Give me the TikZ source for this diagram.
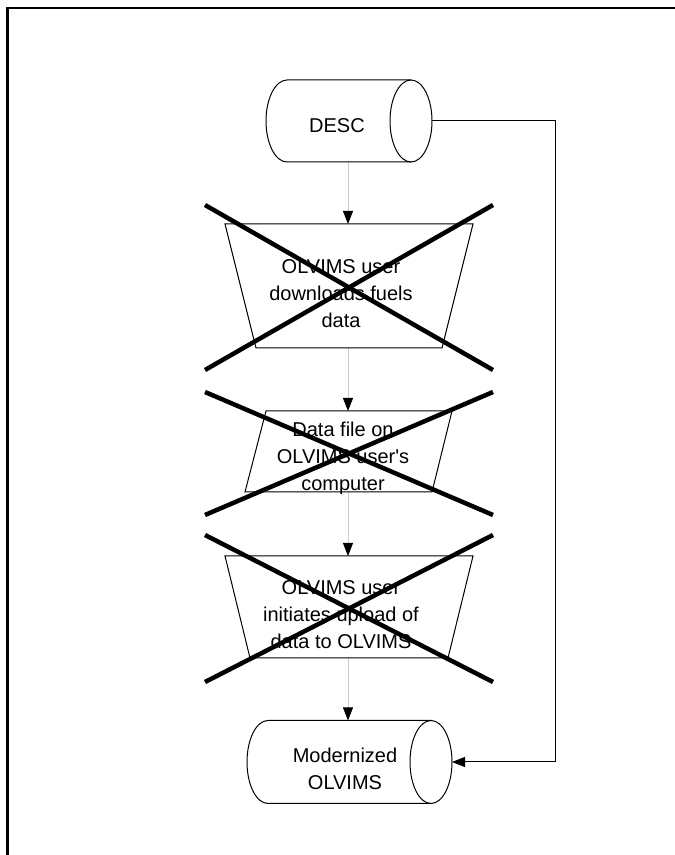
\documentclass[tikz,border=0pt]{standalone}
\usepackage{fontspec}
\setmainfont{Liberation Sans}
\usetikzlibrary{arrows.meta}
\begin{document}
\begin{tikzpicture}[x=1pt,y=1pt,
  shapeline/.style={draw=black, line width=1pt},
  crossline/.style={draw=black, line width=4.5pt},
  flow/.style={draw=gray!40, line width=0.9pt, -{Triangle[width=10pt,length=13pt,color=black]}},
  side/.style={draw=black, line width=1pt, -{Triangle[width=10pt,length=13pt]}},
  lbl/.style={font=\fontsize{20}{27}\selectfont, align=center, inner sep=0pt}]
\useasboundingbox (0,0) rectangle (675,855);
% frame
\draw[line width=2.6pt] (7.3,0) -- (7.3,847) -- (675,847);
% coordinates
\coordinate (descB) at (348,693);
\coordinate (descR) at (432,734);
\coordinate (t1T) at (348,631);
\coordinate (t1B) at (348,507);
\coordinate (pT) at (348,444);
\coordinate (pB) at (348,363);
\coordinate (t2T) at (348,299);
\coordinate (t2B) at (348,197);
\coordinate (modT) at (348,134.5);
\coordinate (modR) at (452,93);
\coordinate (bendA) at (555,734);
\coordinate (bendB) at (555,93);
% flow connectors
\draw[flow] (descB) -- (t1T);
\draw[flow] (t1B) -- (pT);
\draw[flow] (pB) -- (t2T);
\draw[flow] (t2B) -- (modT);
\draw[side] (descR) -- (bendA) -- (bendB) -- (modR);
% DESC cylinder
\draw[shapeline, fill=white] (411,775) -- (287,775) arc[start angle=90,end angle=270,x radius=21,y radius=41] -- (411,693);
\draw[shapeline] (411,734) ellipse[x radius=21,y radius=41];
\node[lbl] (desc) at (337,729) {DESC};
% trapezium 1
\draw[shapeline] (225,631) -- (473,631) -- (442,507) -- (256,507) -- cycle;
\node[lbl] (t1) at (341,561) {OLVIMS user\\downloads fuels\\data};
% parallelogram
\draw[shapeline] (266,444) -- (452,444) -- (432,363) -- (245,363) -- cycle;
\node[lbl] (p) at (343,397) {Data file on\\OLVIMS user\textquotesingle s\\computer};
% trapezium 2
\draw[shapeline] (225,299) -- (473,299) -- (448,197) -- (250,197) -- cycle;
\node[lbl] (t2) at (341,240) {OLVIMS user\\initiates upload of\\data to OLVIMS};
% Modernized cylinder
\draw[shapeline] (431,134.5) -- (268,134.5) arc[start angle=90,end angle=270,x radius=21,y radius=41.5] -- (431,51.5);
\draw[shapeline] (431,93) ellipse[x radius=21,y radius=41.5];
\node[lbl] (mod) at (345,86) {Modernized\\OLVIMS};
% crosses
\draw[crossline] (205,650) -- (493,485);
\draw[crossline] (493,650) -- (205,485);
\draw[crossline] (205,463) -- (493,340);
\draw[crossline] (493,463) -- (205,340);
\draw[crossline] (205,320) -- (493,173);
\draw[crossline] (493,320) -- (205,173);
\end{tikzpicture}
\end{document}
